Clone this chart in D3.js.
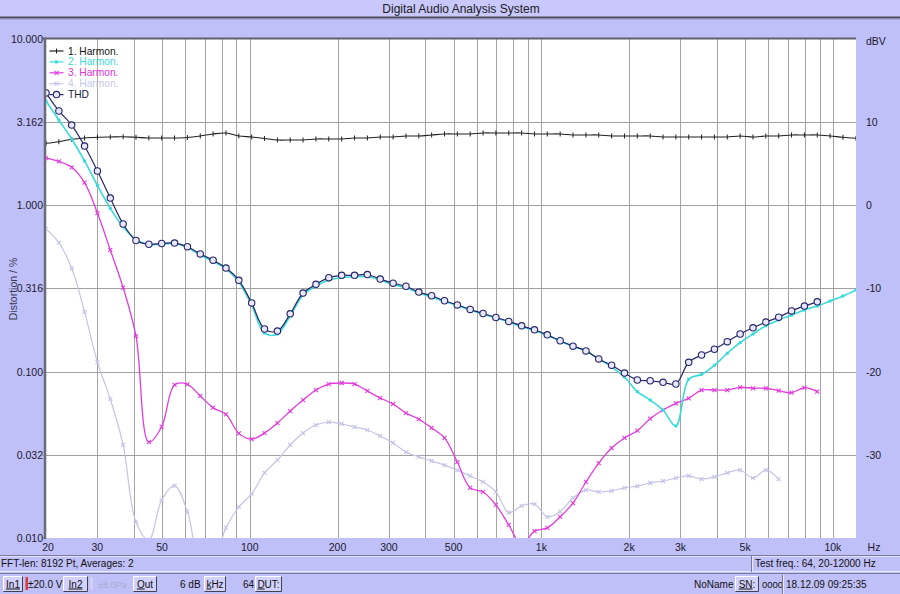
<!DOCTYPE html>
<html><head><meta charset="utf-8">
<script src="https://cdn.jsdelivr.net/npm/d3@7"></script>
<style>
body{margin:0;background:#c0c0f8;}
svg{display:block;font-family:"Liberation Sans",Arial,sans-serif;}
</style>
</head><body>
<svg id="c" width="900" height="594"></svg>
<script>
// ---------- data ----------
const freqs = [20,22.14,24.5,27.12,30.02,33.23,36.78,40.71,45.06,49.87,55.2,61.1,67.63,74.85,82.85,91.7,
  101.5,112.3,124.4,137.6,152.3,168.6,186.6,206.6,228.7,253.1,280.1,310.1,343.2,379.9,420.4,465.4,515.1,
  570.1,631,698.4,773.1,855.7,947.1,1048,1160,1284,1422,1573,1742,1928,2134,2362,2614,2893,3202,3544,
  3923,4342,4806,5320,5888,6517,7213,7984,8837,9781,10826,12000];
// fundamental level, dBV (right axis)
const harm1 = [7.41,7.60,7.89,8.05,8.13,8.17,8.20,8.13,8.05,8.05,8.05,8.11,8.29,8.53,8.65,8.29,8.17,7.99,7.81,7.81,
  7.81,7.93,7.93,7.93,8.05,8.05,8.17,8.17,8.29,8.29,8.41,8.53,8.53,8.53,8.65,8.65,8.65,8.65,8.53,8.53,
  8.53,8.41,8.41,8.41,8.29,8.29,8.29,8.29,8.17,8.17,8.17,8.17,8.17,8.17,8.29,8.17,8.29,8.29,8.41,8.41,
  8.41,8.29,8.13,8.01];
// distortion, % (left axis)
const harm2 = [4.21,3.24,2.49,1.84,1.31,0.955,0.741,0.622,0.579,0.583,0.587,0.556,0.501,0.458,0.413,0.345,0.251,0.170,0.168,0.215,
  0.288,0.326,0.354,0.367,0.370,0.372,0.354,0.333,0.319,0.296,0.280,0.263,0.249,0.234,0.221,0.210,0.198,0.186,0.176,0.165,
  0.152,0.142,0.133,0.119,0.1064,0.0927,0.0757,0.0674,0.0587,0.0471,0.0898,0.0962,0.109,0.1287,0.149,0.168,0.188,0.204,0.218,0.234,
  0.247,0.265,0.284,0.309];
const harm3 = [1.915,1.83,1.684,1.361,0.895,0.537,0.319,0.163,0.0377,0.0466,0.083,0.0838,0.0713,0.0606,0.0553,0.0425,0.0392,0.0427,0.049,0.0579,
  0.0674,0.0774,0.0841,0.0853,0.0841,0.0764,0.0693,0.0638,0.0563,0.0518,0.0458,0.0399,0.0286,0.020,0.0189,0.0158,0.012,0.0091,0.011,0.0115,
  0.0134,0.0162,0.0217,0.0282,0.0347,0.0399,0.0441,0.0521,0.0587,0.0644,0.069,0.0774,0.0774,0.0774,0.0804,0.0793,0.0793,0.0767,0.0746,0.0799,
  0.0757];
const harm4 = [0.718,0.594,0.417,0.228,0.1136,0.0684,0.0362,0.01248,0.00973,0.0169,0.0206,0.0144,0.00738,0.00738,0.0115,0.01536,0.0184,0.0246,0.0294,0.0362,
  0.0427,0.0477,0.0497,0.0484,0.0464,0.0445,0.041,0.0372,0.0328,0.0307,0.029,0.0274,0.0256,0.0236,0.0217,0.0189,0.0142,0.0156,0.016,0.0134,
  0.0144,0.0174,0.0194,0.0189,0.0192,0.020,0.0205,0.0214,0.022,0.0229,0.0236,0.0226,0.0233,0.0246,0.0256,0.0229,0.0256,0.0226];
const thd = [4.71,3.67,3.02,2.26,1.60,1.10,0.769,0.612,0.581,0.587,0.591,0.562,0.508,0.466,0.418,0.353,0.258,0.180,0.175,0.222,
  0.296,0.334,0.366,0.378,0.378,0.382,0.359,0.339,0.325,0.300,0.285,0.266,0.251,0.236,0.223,0.211,0.200,0.188,0.178,0.166,
  0.153,0.142,0.133,0.119,0.109,0.0979,0.0889,0.0880,0.0861,0.0841,0.1136,0.1256,0.136,0.151,0.168,0.183,0.198,0.212,0.231,0.247,
  0.262];

const xTicks = [20,30,50,100,200,300,500,1000,2000,3000,5000,10000];
const xTickLabels = ["20","30","50","100","200","300","500","1k","2k","3k","5k","10k"];
const yTicks = [10,3.162,1,0.3162,0.1,0.03162,0.01];
const yTickLabels = ["10.000","3.162","1.000","0.316","0.100","0.032","0.010"];
const dbvTicks = [10,0,-10,-20,-30];
const legendNames = ["1. Harmon.","2. Harmon.","3. Harmon.","4. Harmon.","THD"];

// ---------- layout ----------
const svg = d3.select("#c");
const L = 46, R = 856, T = 38.5, B = 538;
const x = d3.scaleLog().domain([20,12000]).range([L,R]);
const y = d3.scaleLog().domain([0.01,10]).range([B,T]);
const yR = d3.scaleLinear().domain([-40,20]).range([B,T]);
const txt = "#1a1a30";

// background
svg.append("rect").attr("width",900).attr("height",594).attr("fill","#c0c0f8");
// title bar
svg.append("rect").attr("x",0).attr("y",0).attr("width",900).attr("height",17).attr("fill","#c8c8fc");
svg.append("line").attr("x1",0).attr("x2",900).attr("y1",17.5).attr("y2",17.5).attr("stroke","#505058").attr("stroke-width",2);
svg.append("line").attr("x1",0).attr("x2",900).attr("y1",19.5).attr("y2",19.5).attr("stroke","#a8a8e0").attr("stroke-width",1);
svg.append("text").attr("x",461).attr("y",13).attr("text-anchor","middle").attr("font-size",12).attr("fill","#202020")
  .text("Digital Audio Analysis System");

// plot area
svg.append("rect").attr("x",L).attr("y",T).attr("width",R-L).attr("height",B-T).attr("fill","#ffffff");

// grid
const gridF = [];
for (let dec of [10,100,1000,10000]) for (let m=1;m<10;m++){const f=dec*m; if(f>20 && f<12000) gridF.push(f);}
svg.append("g").selectAll("line").data(gridF).join("line")
  .attr("x1",d=>Math.round(x(d))+0.5).attr("x2",d=>Math.round(x(d))+0.5).attr("y1",T).attr("y2",B)
  .attr("stroke","#a4a4a4").attr("stroke-width",1);
svg.append("g").selectAll("line").data(yTicks.slice(1,-1)).join("line")
  .attr("x1",42).attr("x2",R).attr("y1",d=>Math.round(y(d))+0.5).attr("y2",d=>Math.round(y(d))+0.5)
  .attr("stroke","#a0a0a0").attr("stroke-width",1);
svg.append("g").selectAll("line").data([0.01]).join("line")
  .attr("x1",42).attr("x2",L).attr("y1",B).attr("y2",B).attr("stroke","#808080");
// borders
svg.append("line").attr("x1",43).attr("x2",R).attr("y1",T).attr("y2",T).attr("stroke","#606068").attr("stroke-width",2.2);
svg.append("line").attr("x1",45).attr("x2",45).attr("y1",T-1).attr("y2",B+1).attr("stroke","#6a6a78").attr("stroke-width",2.5);

// axes labels
svg.append("g").selectAll("text").data(yTicks).join("text")
  .attr("x",43).attr("y",d=>y(d)+4).attr("text-anchor","end").attr("font-size",10.5).attr("fill",txt)
  .text((d,i)=>yTickLabels[i]);
svg.append("g").selectAll("text").data(dbvTicks).join("text")
  .attr("x",866).attr("y",d=>yR(d)+4).attr("text-anchor","start").attr("font-size",10.5).attr("fill",txt)
  .text(d=>String(d));
svg.append("text").attr("x",866).attr("y",45).attr("font-size",10.5).attr("fill",txt).text("dBV");
svg.append("g").selectAll("text").data(xTicks).join("text")
  .attr("x",d=>x(d)+(d===20?2:0)).attr("y",551).attr("text-anchor","middle").attr("font-size",10.5).attr("fill",txt)
  .text((d,i)=>xTickLabels[i]);
svg.append("text").attr("x",874).attr("y",551).attr("text-anchor","middle").attr("font-size",10.5).attr("fill",txt).text("Hz");
svg.append("text").attr("transform","translate(17,289) rotate(-90)").attr("text-anchor","middle")
  .attr("font-size",10.5).attr("fill","#383858").text("Distortion / %");

// ---------- series ----------
const defs = svg.append("defs");
defs.append("clipPath").attr("id","clip").append("rect").attr("x",L).attr("y",T).attr("width",R-L).attr("height",B-T);
const plot = svg.append("g").attr("clip-path","url(#clip)");
const curve = d3.curveCatmullRom.alpha(0.5);

const series = [
  {vals:harm4, color:"#c4c4e6", w:1.2, mk:"x", ys:y},
  {vals:harm3, color:"#e23cdc", w:1.3, mk:"x", ys:y},
  {vals:harm1, color:"#202020", w:1.1, mk:"tick", ys:yR},
  {vals:harm2, color:"#38dada", w:1.6, mk:"dot", ys:y},
  {vals:thd,   color:"#262668", w:1.2, mk:"circle", ys:y}
];
function drawMarker(g, mk, color, px, py){
  if (mk==="tick"){
    g.append("line").attr("x1",px).attr("x2",px).attr("y1",py-2.5).attr("y2",py+2.5).attr("stroke",color).attr("stroke-width",1);
  } else if (mk==="x"){
    g.append("path").attr("d",`M${px-2},${py-2}L${px+2},${py+2}M${px-2},${py+2}L${px+2},${py-2}`)
      .attr("stroke",color).attr("stroke-width",1.1);
  } else if (mk==="dot"){
    g.append("rect").attr("x",px-1.5).attr("y",py-1.5).attr("width",3).attr("height",3).attr("fill",color);
  } else {
    g.append("circle").attr("cx",px).attr("cy",py).attr("r",3.2).attr("fill","#e8e8fa").attr("stroke",color).attr("stroke-width",1.1);
  }
}
series.forEach(s=>{
  const pts = s.vals.map((v,i)=>[x(freqs[i]), s.ys(v)]);
  plot.append("path").attr("d",d3.line().curve(curve)(pts)).attr("fill","none")
    .attr("stroke",s.color).attr("stroke-width",s.w);
  const mg = plot.append("g");
  pts.forEach(p=>drawMarker(mg, s.mk, s.color, p[0], p[1]));
});

// legend
const legColors = ["#202020","#38dada","#e23cdc","#c4c4e6","#262668"];
const legMk = ["tick","dot","x","x","circle"];
const legTxt = ["#101010","#40d8d8","#e030d8","#c8c8e8","#1a1a40"];
legendNames.forEach((n,i)=>{
  const ly = 51 + i*10.9;
  const g = svg.append("g");
  g.append("line").attr("x1",49.5).attr("x2",63.5).attr("y1",ly).attr("y2",ly).attr("stroke",legColors[i]).attr("stroke-width",1.2);
  drawMarker(g, legMk[i], legColors[i], 56.5, ly);
  g.append("text").attr("x",68).attr("y",ly+3.5).attr("font-size",10.2).attr("fill",legTxt[i]).text(n);
});

// ---------- status bars ----------
const sb = svg.append("g").attr("font-size",10).attr("fill","#101010");
sb.append("line").attr("x1",0).attr("x2",900).attr("y1",555.5).attr("y2",555.5).attr("stroke","#7878a0");
sb.append("line").attr("x1",0).attr("x2",900).attr("y1",556.5).attr("y2",556.5).attr("stroke","#e0e0ff");
sb.append("line").attr("x1",0).attr("x2",900).attr("y1",571.5).attr("y2",571.5).attr("stroke","#e8e8ff");
sb.append("line").attr("x1",0).attr("x2",900).attr("y1",573.5).attr("y2",573.5).attr("stroke","#7878a0");
sb.append("line").attr("x1",751.5).attr("x2",751.5).attr("y1",556).attr("y2",572).attr("stroke","#7878a0");
sb.append("line").attr("x1",752.5).attr("x2",752.5).attr("y1",556).attr("y2",572).attr("stroke","#e8e8ff");
sb.append("text").attr("x",1).attr("y",567).text("FFT-len: 8192 Pt, Averages: 2");
sb.append("text").attr("x",755).attr("y",567).text("Test freq.: 64, 20-12000 Hz");

function button(x0, w, label, ulCount){
  const g = sb.append("g");
  g.append("rect").attr("x",x0).attr("y",576).attr("width",w).attr("height",15).attr("fill","#d2d2fc");
  g.append("path").attr("d",`M${x0+0.5},${590.5}V576.5H${x0+w-0.5}`).attr("stroke","#ffffff").attr("fill","none");
  g.append("path").attr("d",`M${x0+0.5},${591.5}H${x0+w-0.5}V576.5`).attr("stroke","#404050").attr("fill","none");
  const t = g.append("text").attr("x",x0+w/2).attr("y",587.5).attr("text-anchor","middle");
  t.append("tspan").attr("text-decoration","underline").text(label.slice(0,ulCount));
  t.append("tspan").text(label.slice(ulCount));
}
button(3,20,"In1",3);
sb.append("rect").attr("x",25.5).attr("y",577).attr("width",2.5).attr("height",13).attr("fill","#e03838");
sb.append("text").attr("x",28).attr("y",587.5).text("±20.0 V");
button(63,25,"In2",3);
sb.append("rect").attr("x",90.5).attr("y",577).attr("width",2).attr("height",13).attr("fill","#d8d8e8");
sb.append("text").attr("x",98).attr("y",587.5).attr("fill","#a8a8cc").attr("font-size",9).text("±8.0Pa");
button(133,24,"Out",1);
sb.append("text").attr("x",180).attr("y",587.5).text("6 dB");
button(204,22,"kHz",1);
sb.append("text").attr("x",243).attr("y",587.5).text("64");
button(255,27,"DUT:",1);
sb.append("text").attr("x",694).attr("y",587.5).text("NoName");
button(735,24,"SN:",2);
sb.append("text").attr("x",762).attr("y",587.5).attr("font-size",9.5).text("0000");
sb.append("line").attr("x1",782.5).attr("x2",782.5).attr("y1",575).attr("y2",594).attr("stroke","#7878a0");
sb.append("line").attr("x1",783.5).attr("x2",783.5).attr("y1",575).attr("y2",594).attr("stroke","#e8e8ff");
sb.append("text").attr("x",786).attr("y",587.5).text("18.12.09  09:25:35");
</script>
</body></html>
